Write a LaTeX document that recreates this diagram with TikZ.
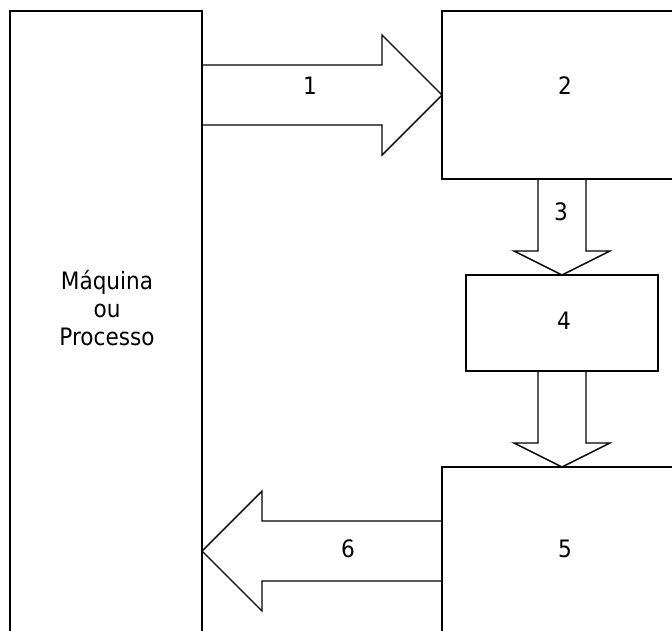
\documentclass[tikz,border=0pt]{standalone}
\usepackage{fontspec}
\setmainfont{DejaVu Sans Condensed}
\begin{document}
\begin{tikzpicture}[x=1pt,y=-1pt,
  box/.style={draw,line width=1.4pt,inner sep=0pt},
  blockarrow/.style={draw,line width=1.4pt,line join=miter},
  lbl/.style={font=\fontsize{24}{28}\selectfont,inner sep=0pt,align=center}]
\useasboundingbox (0,0) rectangle (672,630);
\clip (0,0) rectangle (672,630);
% boxes
\draw[box] (10,11) rectangle (202,700);
\draw[box] (442,11) rectangle (690,179);
\draw[box] (466,275) rectangle (658,371);
\draw[box] (442,467) rectangle (690,700);
% texts
\node[lbl] (maq) at (107,308) {Máquina\\ou\\Processo};
\node[lbl] (t2) at (565,86) {2};
\node[lbl] (t4) at (564,321) {4};
\node[lbl] (t5) at (565,549) {5};
% arrow 1
\draw[blockarrow] (202,65) -- (382,65) -- (382,35) -- (442,95) -- (382,155) -- (382,125) -- (202,125);
\node[lbl] (t1) at (310,86) {1};
% arrow 3
\draw[blockarrow] (538,179) -- (538,251) -- (514,251) -- (562,275) -- (610,251) -- (586,251) -- (586,179);
\node[lbl] (t3) at (561,212) {3};
% arrow 4 -> 5
\draw[blockarrow] (538,371) -- (538,443) -- (514,443) -- (562,467) -- (610,443) -- (586,443) -- (586,371);
% arrow 6
\draw[blockarrow] (442,521) -- (262,521) -- (262,491) -- (202,551) -- (262,611) -- (262,581) -- (442,581);
\node[lbl] (t6) at (348,549) {6};
\end{tikzpicture}
\end{document}
